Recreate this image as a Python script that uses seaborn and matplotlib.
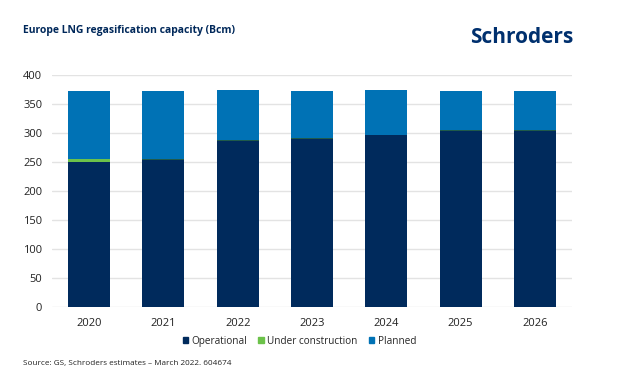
import numpy as np
import pandas as pd
import seaborn as sns
import matplotlib.pyplot as plt
from matplotlib.patches import Patch

years = ['2020', '2021', '2022', '2023', '2024', '2025', '2026']
operational = [250, 254, 286, 290, 296, 304, 304]
under_construction = [5, 1, 1, 1, 1, 1, 1]
planned = [118, 118, 87, 82, 77, 68, 68]

col_op = '#002a5c'
col_uc = '#6cc24a'
col_pl = '#0072b5'

sns.set_theme(style="white")
plt.rcParams['font.family'] = ['Open Sans', 'DejaVu Sans']

fig = plt.figure(figsize=(6.33, 3.88), dpi=100)
ax = fig.add_axes([0.0822, 0.2095, 0.8214, 0.5972])

dados = pd.DataFrame({'ano': years, 'op': operational, 'uc': under_construction, 'pl': planned})
base_uc = dados['op']
base_pl = dados['op'] + dados['uc']

sns.barplot(data=dados, x='ano', y='op', color=col_op, width=0.565, saturation=1, ax=ax, linewidth=0)
sns.barplot(data=dados, x='ano', y='uc', bottom=base_uc, color=col_uc, width=0.565, saturation=1, ax=ax,
            linewidth=0)
sns.barplot(data=dados, x='ano', y='pl', bottom=base_pl, color=col_pl, width=0.565, saturation=1, ax=ax,
            linewidth=0)
# the thin under-construction slices look like a dark green seam
for p in ax.patches[7:14]:
    if p.get_height() < 2:
        p.set_facecolor('#1f5a4a')

ax.set_ylim(0, 400)
ax.set_xlim(-0.5, 6.5)
ax.set_yticks(range(0, 401, 50))
ax.yaxis.grid(True, color='#e3e3e3', linewidth=1)
ax.set_axisbelow(True)
for s in ax.spines.values():
    s.set_visible(False)
ax.set_xlabel('')
ax.set_ylabel('')
ax.tick_params(axis='both', length=0, labelsize=8, labelcolor='#222222')
ax.tick_params(axis='y', pad=7)
ax.tick_params(axis='x', pad=8)

fig.text(0.036, 0.922, 'Europe LNG regasification capacity (Bcm)', fontsize=7.5,
         fontweight='bold', color='#00285a', va='center')
fig.text(0.906, 0.904, 'Schroders', fontsize=15, fontweight='bold', color='#00306e',
         ha='right', va='center')
fig.text(0.037, 0.064, 'Source: GS, Schroders estimates \u2013 March 2022. 604674', fontsize=5.85,
         color='#222222', va='center')

handles = [Patch(color=col_op, label='Operational'),
           Patch(color=col_uc, label='Under construction'),
           Patch(color=col_pl, label='Planned')]
fig.legend(handles=handles, loc='center', bbox_to_anchor=(0.473, 0.12), ncol=3, frameon=False,
           fontsize=7.2, handlelength=0.55, handleheight=0.55, handletextpad=0.35, columnspacing=1.1)

plt.savefig('out.png', dpi=100)
plt.close()
